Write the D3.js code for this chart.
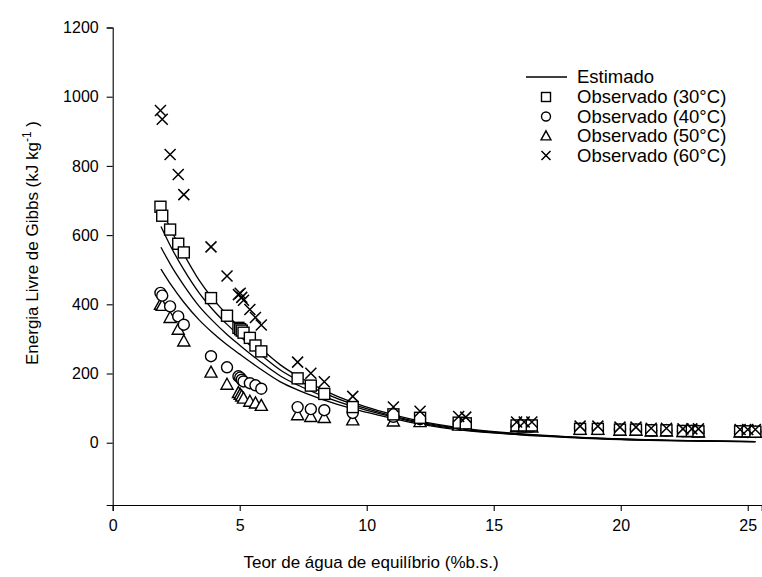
<!DOCTYPE html>
<html><head><meta charset="utf-8">
<script src="https://cdn.jsdelivr.net/npm/d3@7"></script>
<style>body{margin:0;background:#fff}svg{display:block}text{font-family:"Liberation Sans",Arial,sans-serif;fill:#000}</style>
</head><body>
<svg id="c" width="762" height="577"></svg>
<script>
// ---- data ----
const moisture = [1.88,1.95,2.26,2.58,2.80,3.87,4.50,4.95,5.02,5.08,5.15,5.40,5.62,5.85,7.28,7.80,8.33,9.45,11.05,12.10,13.62,13.90,15.90,16.20,16.50,18.40,19.10,19.97,20.60,21.20,21.80,22.45,22.80,23.06,24.70,25.00,25.30];
const obs30 = [682,656,616,575,550,418,367,332,328,324,318,303,281,264,186,165,141,103,82,72,58,56,50,50,50,40,40,38,38,36,36,34,34,33,33,33,32];
const obs40 = [433,425,394,365,341,250,218,192,188,182,177,172,166,156,103,97,94,86,75,68,55,54,48,47,47,40,40,37,37,35,35,33,33,32,32,31,31];
const obs50 = [399,396,361,327,293,203,168,144,139,134,128,119,114,107,80,75,72,65,62,60,50,50,45,44,44,38,38,35,35,33,33,31,31,30,30,29,29];
const obs60 = [960,935,833,775,717,566,482,428,432,420,412,385,362,340,233,201,176,134,103,91,76,74,60,60,60,48,48,45,45,42,42,40,40,40,38,38,38];

const fitX = [1.9,2.3,2.8,3.4,3.9,4.5,5.0,5.8,6.6,7.3,8.3,9.5,10.5,12.0,14.0,16.0,18.0,20.0,22.0,25.3];
const fit1 = [680,615,545,470,420,370,333,275,225,192,152,115,92,64,40,26,17,11,7,3];
const fit2 = [625,565,500,433,388,342,308,256,210,180,144,110,88,61,38,25,16,10,7,3];
const fit3 = [565,512,455,395,355,313,282,235,193,166,134,104,84,58,36,24,16,10,6,3];
const fit4 = [502,456,406,355,320,283,256,214,176,152,124,97,79,55,34,23,15,9,6,3];

const xTicks = [0,5,10,15,20,25];
const yTicks = [0,200,400,600,800,1000,1200];
const legendLabels = ["Estimado","Observado (30°C)","Observado (40°C)","Observado (50°C)","Observado (60°C)"];
const xTitle = "Teor de água de equilíbrio (%b.s.)";

// ---- chart ----
const svg = d3.select("#c");
const x = d3.scaleLinear().domain([0,25.55]).range([112.7,761.7]);
const y = d3.scaleLinear().domain([-180,1200]).range([505,27.5]);

const gx = svg.append("g").attr("transform","translate(0,505)")
  .call(d3.axisBottom(x).tickValues(xTicks).tickFormat(d3.format("d")).tickSizeOuter(0).tickSize(6).tickPadding(9));
const gy = svg.append("g").attr("transform","translate(112.7,0)")
  .call(d3.axisLeft(y).tickValues(yTicks).tickFormat(d3.format("d")).tickSizeOuter(0).tickSize(6).tickPadding(8));
[gx,gy].forEach(g=>{
  g.selectAll("text").attr("font-size",16).attr("font-family","Liberation Sans, Arial, sans-serif").attr("fill","#000");
  g.selectAll("line,path").attr("stroke","#000").attr("stroke-width",1.1);
});

// fitted curves
const line = d3.line().x(d=>x(d[0])).y(d=>y(d[1])).curve(d3.curveMonotoneX);
[fit1,fit2,fit3,fit4].forEach(s=>{
  svg.append("path").datum(fitX.map((v,i)=>[v,s[i]]))
    .attr("d",line).attr("fill","none").attr("stroke","#000").attr("stroke-width",1.3);
});

// markers
function marker(g, type, size){
  const h = size/2;
  if(type==="square") g.append("rect").attr("x",-h).attr("y",-h).attr("width",size).attr("height",size);
  else if(type==="circle") g.append("circle").attr("r",h*1.0);
  else if(type==="triangle") g.append("path").attr("d",`M0,${-h*1.15}L${h*1.1},${h*0.85}L${-h*1.1},${h*0.85}Z`);
  else if(type==="cross") g.append("path").attr("d",`M${-h},${-h}L${h},${h}M${-h},${h}L${h},${-h}`);
  g.selectAll("*").attr("fill",type==="cross"?"none":"#fff").attr("stroke","#000").attr("stroke-width",type==="cross"?1.5:1.4);
}
const series = [[obs50,"triangle"],[obs40,"circle"],[obs30,"square"],[obs60,"cross"]];
series.forEach(([vals,type])=>{
  svg.append("g").selectAll("g").data(vals).join("g")
    .attr("transform",(d,i)=>`translate(${x(moisture[i])},${y(d)})`)
    .each(function(){ marker(d3.select(this), type, 11); });
});

// legend
const lg = svg.append("g");
const rowY = [77,97,116.5,136,155.5];
lg.append("line").attr("x1",526).attr("x2",567).attr("y1",rowY[0]).attr("y2",rowY[0]).attr("stroke","#000").attr("stroke-width",1.3);
["square","circle","triangle","cross"].forEach((t,i)=>{
  marker(lg.append("g").attr("transform",`translate(546,${rowY[i+1]})`), t, 9);
});
legendLabels.forEach((t,i)=>{
  lg.append("text").attr("x",577).attr("y",rowY[i]).attr("dy","0.35em").attr("font-size",18.5).text(t);
});

// axis titles
svg.append("text").attr("x",371).attr("y",568).attr("text-anchor","middle").attr("font-size",17).text(xTitle);
const yt = svg.append("text").attr("transform","translate(38,243) rotate(-90)").attr("text-anchor","middle").attr("font-size",17);
yt.append("tspan").text("Energia Livre de Gibbs (kJ kg");
yt.append("tspan").attr("dy",-7).attr("font-size",12).text("-1");
yt.append("tspan").attr("dy",7).text(" )");
</script>
</body></html>
